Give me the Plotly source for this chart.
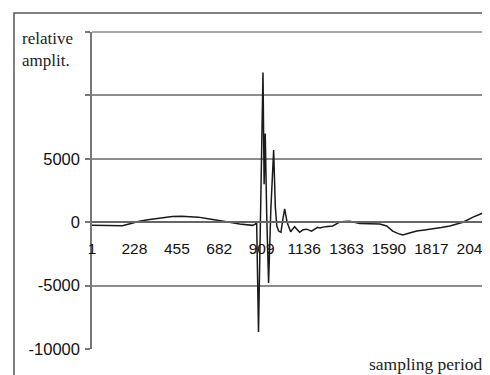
import plotly.graph_objects as go

# sample index and relative amplitude
samples = [1, 3, 60, 120, 163, 210, 254, 300, 346, 390, 431, 480, 522, 570, 614, 660, 700, 745,
           791, 830, 860, 875, 882, 892, 904, 916, 922, 928, 936, 946, 958, 973, 982, 990,
           1000, 1012, 1022, 1032, 1045, 1064, 1085, 1112, 1130, 1149, 1176, 1208, 1219,
           1250, 1289, 1326, 1350, 1380, 1434, 1490, 1541, 1578, 1610, 1640, 1664, 1700,
           1739, 1780, 1825, 1870, 1916, 1950, 1986, 2040, 2080, 2104, 2120]
amplitude = [-250, -250, -270, -280, -280, -100, 80, 200, 300, 400, 450, 470, 450, 400, 300, 200,
             100, -20, -150, -220, -250, -150, 0, -8660, 1500, 11800, 3000, 7000, 500, -4800,
             1000, 5700, 1200, -300, -700, -800, 200, 1050, 0, -750, -350, -800, -600, -550,
             -700, -400, -450, -350, -300, 0, 50, 80, -100, -120, -150, -300, -700, -900,
             -1000, -850, -700, -620, -550, -420, -300, -150, 0, 400, 620, 800, 900]

y_ticks = [-10000, -5000, 0, 5000, 10000, 15000]
y_tick_text = ["-10000", "-5000", "0", "5000", "", ""]
x_ticks = [1, 228, 455, 682, 909, 1136, 1363, 1590, 1817, 2044]
x_tick_text = [str(v) for v in x_ticks]

fig = go.Figure()
fig.add_trace(go.Scatter(
    x=samples, y=amplitude, mode="lines",
    line=dict(color="#1a1a1a", width=1.5),
    showlegend=False, hoverinfo="skip",
))

fig.update_layout(
    width=490, height=375,
    margin=dict(l=84, r=10, t=24, b=34),
    paper_bgcolor="white", plot_bgcolor="white",
    font=dict(family="Liberation Sans, Arial, sans-serif", size=15, color="#111111"),
    xaxis=dict(
        range=[1, 2120], anchor="free", position=0.4, automargin=False,
        tickmode="array", tickvals=x_ticks, ticktext=x_tick_text,
        tickfont=dict(size=15.5),
        showgrid=False, zeroline=False,
        showline=True, linecolor="#666666", linewidth=2,
        ticks="", ticklabelstandoff=12, ticklabeloverflow="allow",
    ),
    yaxis=dict(
        range=[-10000, 15000], automargin=False,
        tickmode="array", tickvals=y_ticks, ticktext=y_tick_text,
        tickfont=dict(size=16.5),
        showgrid=True, gridcolor="#8c8c8c", gridwidth=1.5,
        zeroline=False,
        showline=True, linecolor="#777777", linewidth=1.5,
        ticks="outside", ticklen=5, tickcolor="#777777", tickwidth=1.5,
        ticklabelstandoff=2,
    ),
    shapes=[
        # plot-area right and top borders
        dict(type="line", xref="paper", yref="paper", x0=1, x1=1, y0=0, y1=1,
             line=dict(color="#777777", width=1.5)),
        dict(type="line", xref="paper", yref="paper", x0=0, x1=1, y0=1, y1=1,
             line=dict(color="#8c8c8c", width=1.5)),
        # outer frame (top and left)
        dict(type="path", xref="paper", yref="paper",
             path="M -0.197,-0.09 L -0.197,1.06 L 1.02,1.06",
             line=dict(color="#555555", width=1.5)),
    ],
    annotations=[
        dict(text="relative<br>amplit.", xref="paper", yref="paper", x=-0.183, y=1.015,
             xanchor="left", yanchor="top", align="left", showarrow=False,
             font=dict(family="Liberation Serif, Times New Roman, serif", size=17, color="#222222")),
        dict(text="sampling period", xref="paper", yref="paper", x=0.99, y=-0.008,
             xanchor="right", yanchor="top", showarrow=False,
             font=dict(family="Liberation Serif, Times New Roman, serif", size=17.5, color="#222222")),
    ],
)

fig.write_html("out.html")
